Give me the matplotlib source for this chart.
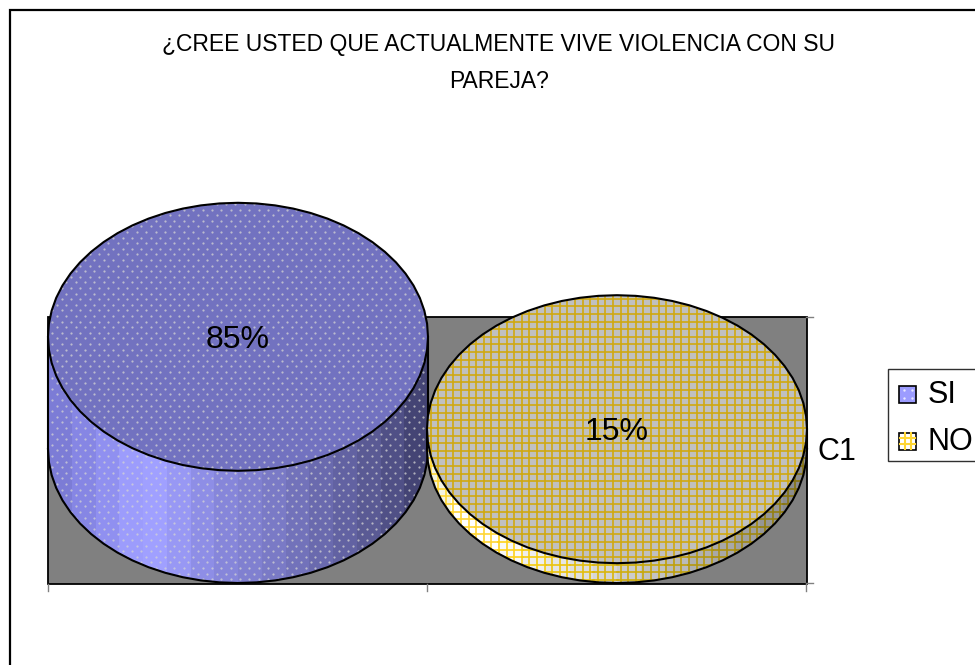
import numpy as np
import matplotlib
matplotlib.use('Agg')
import matplotlib.pyplot as plt
from matplotlib.patches import Polygon, Rectangle

plt.rcParams['font.family'] = ['Liberation Sans', 'DejaVu Sans']

categories = ['SI', 'NO']
values = [85, 15]
labels = ['85%', '15%']
title = '¿CREE USTED QUE ACTUALMENTE VIVE VIOLENCIA CON SU\nPAREJA?'
series_name = 'C1'

# shading across the side of a cylinder, left to right
side_si = ['#7c7cd6', '#8686e4', '#9090f0', '#9c9cfc', '#a0a0ff', '#9898f4', '#8e8ee6', '#8686da',
           '#8080d0', '#7a7ac6', '#7272ba', '#6a6aae', '#6262a2', '#5a5a94', '#505086', '#444474']
side_no = ['#f4f4e0', '#ffffff', '#ffffff', '#f8f8f8', '#eeeeee', '#e6e6e6', '#dedede', '#d6d6d6',
           '#cccccc', '#c2c2c2', '#bababa', '#b0b0b0', '#a8a8a8', '#a0a0a0', '#969696', '#8c8c8c']
grid_no = ['#ffd633', '#ffd633', '#ffd633', '#ffd21c', '#f4cc10', '#ecc40c', '#e4be0c', '#dab60c',
           '#d0ae0c', '#c8a80c', '#c0a00c', '#b49810', '#ac9010', '#a08810', '#948010', '#887410']

W, H = 975, 665
RX, RY = 190, 134
BASE_Y = 449
SCALE = 1.32
CX = [238, 617]
N_SEG = 64

fig = plt.figure(figsize=(W / 100, H / 100), dpi=100)
ax = fig.add_axes([0, 0, 1, 1])
ax.set_xlim(0, W)
ax.set_ylim(H, 0)
ax.axis('off')

# outer frame
ax.add_patch(Rectangle((9.5, 9.5), 975, 665, fc='white', ec='black', lw=1.6, zorder=0))

# plot area, ticks
ax.add_patch(Rectangle((47.5, 317), 759, 267, fc='#808080', ec='black', lw=1.3, zorder=1))
for x in [48, 427, 806]:
    ax.plot([x, x], [584, 591], color='#808080', lw=1, zorder=1)
for y in [317, 583]:
    ax.plot([806, 813], [y, y], color='#808080', lw=1, zorder=1)


def ellipse_pts(cx, cy, t):
    return np.c_[cx + RX * np.cos(t), cy + RY * np.sin(t)]


def dots(cx, cy, clip):
    xs, ys = [], []
    for r, y in enumerate(np.arange(cy - RY - 10, BASE_Y + RY + 10, 5.6)):
        off = 4.7 if r % 2 else 0
        for x in np.arange(cx - RX - 10 + off, cx + RX + 10, 9.4):
            xs.append(x)
            ys.append(y)
    pts = ax.scatter(xs, ys, s=2.6, c='#d4d4d4', alpha=0.75, linewidths=0, zorder=clip.get_zorder() + 0.1)
    pts.set_clip_path(clip)


grid_step = 7.6
grid_lw = 1.2
for i, (cx, value) in enumerate(zip(CX, values)):
    height = value * SCALE
    top_y = BASE_Y - height
    z = 3 + i * 2

    # side wall, split in vertical strips
    edge = ellipse_pts(cx, BASE_Y, np.linspace(0, np.pi, N_SEG // 2 + 1))
    side_pts = np.r_[edge, [[cx - RX, top_y], [cx + RX, top_y]]]
    side = Polygon(side_pts, closed=True, fc='none', ec='none', zorder=z)
    ax.add_patch(side)
    shades = side_si if i == 0 else side_no
    strip = 2 * RX / len(shades)
    for k, shade in enumerate(shades):
        x0 = cx - RX + k * strip
        r = Rectangle((x0, top_y), strip + 0.5, height + RY + 2, fc=shade, ec='none', zorder=z)
        ax.add_patch(r)
        r.set_clip_path(side)
        if i == 1:
            # grid gets darker along with the shading
            for gx in np.arange(cx - RX - 4, cx + RX + 4, grid_step):
                if x0 <= gx < x0 + strip:
                    ln = ax.axvline(gx, color=grid_no[k], lw=grid_lw, zorder=z + 0.1)
                    ln.set_clip_path(side)
            for gy in np.arange(top_y - RY - 4, BASE_Y + RY + 10, grid_step):
                ln, = ax.plot([x0, x0 + strip + 0.5], [gy, gy], color=grid_no[k], lw=grid_lw, zorder=z + 0.1)
                ln.set_clip_path(side)
    if i == 0:
        dots(cx, top_y, side)
    ax.plot(edge[:, 0], edge[:, 1], color='black', lw=1.5, zorder=z + 0.3)
    ax.plot([cx - RX, cx - RX], [top_y, BASE_Y], color='black', lw=1.5, zorder=z + 0.3)
    ax.plot([cx + RX, cx + RX], [top_y, BASE_Y], color='black', lw=1.5, zorder=z + 0.3)

    # top face
    top_pts = ellipse_pts(cx, top_y, np.linspace(0, 2 * np.pi, N_SEG + 1))
    face = Polygon(top_pts, closed=True, fc='#7272c0' if i == 0 else '#c0c0c0', ec='none', zorder=z + 0.4)
    ax.add_patch(face)
    if i == 0:
        dots(cx, top_y, face)
    else:
        for gx in np.arange(cx - RX - 4, cx + RX + 4, grid_step):
            ln = ax.axvline(gx, color='#d0a810', lw=grid_lw, zorder=z + 0.5)
            ln.set_clip_path(face)
        for gy in np.arange(top_y - RY - 4, top_y + RY + 4, grid_step):
            ln = ax.axhline(gy, color='#d0a810', lw=grid_lw, zorder=z + 0.5)
            ln.set_clip_path(face)
    ax.add_patch(Polygon(top_pts, closed=True, fc='none', ec='black', lw=1.5, zorder=z + 0.6))
    ax.text(cx, top_y + 3, labels[i], ha='center', va='center', fontsize=23, color='black', zorder=z + 0.7)

# title and series label
ax.text(499, 63, title, ha='center', va='center', fontsize=16.5, linespacing=1.81, color='black', zorder=10)
ax.text(837, 452, series_name, ha='center', va='center', fontsize=22, color='black', zorder=10)

# legend
ax.add_patch(Rectangle((888, 368.5), 100, 92.5, fc='white', ec='#303030', lw=1, zorder=10))
for i, (cat, y) in enumerate(zip(categories, [394, 441])):
    key = Rectangle((899, y - 8.5), 17, 17, fc='#9c9cff' if i == 0 else '#ffffff', ec='black', lw=1.2, zorder=11)
    ax.add_patch(key)
    if i == 0:
        ax.scatter([904, 912, 904, 912], [y - 4, y - 4, y + 4, y + 4], s=3, c='#e8e8ff', linewidths=0, zorder=12)
    else:
        for d in [-3, 3]:
            ax.plot([899 + 8.5 + d] * 2, [y - 8, y + 8], color='#ffd633', lw=1.5, zorder=11.5)
            ax.plot([900, 915], [y + d, y + d], color='#ffd633', lw=1.5, zorder=11.5)
    ax.text(928, y + 1, cat, ha='left', va='center', fontsize=22, color='black', zorder=12)

fig.savefig('out.png', dpi=100)
